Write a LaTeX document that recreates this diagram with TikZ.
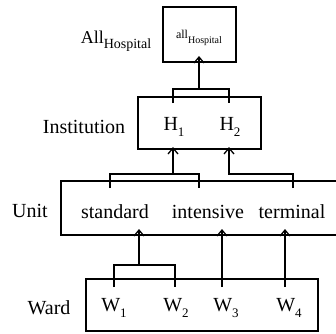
\documentclass[tikz,border=0pt]{standalone}
\usepackage{fontspec}
\setmainfont{Liberation Serif}
\usetikzlibrary{arrows.meta}
\newcommand{\lowsub}[1]{\raisebox{-0.6ex}{\fontsize{6.5}{7}\selectfont #1}}

\begin{document}
\begin{tikzpicture}
			[x=0.5pt,y=-0.5pt,line width=0.65pt,>={Straight Barb[length=3pt,width=5pt]},
			every node/.style={inner sep=0pt,font=\fontsize{10}{12}\selectfont}]
			\useasboundingbox (0,0) rectangle (336,333);
			\clip (0,0) rectangle (336,333);
			
			% boxes
			\draw (163,7) rectangle (236,62);
			\draw (138,97) rectangle (261,149);
			\draw (61,181) rectangle (350,235);
			\draw (86,279) rectangle (318,331);
			
			% level names
			\node (lall) at (116,41) {{\fontsize{9}{10}\selectfont All}\raisebox{-0.6ex}{\fontsize{7}{8}\selectfont Hospital}};
			\node (linst) at (84,127) {Institution};
			\node (lunit) at (30,211) {Unit};
			\node (lward) at (49,308) {Ward};
			
			% members
			\node (all) at (199,38) {{\fontsize{6}{7}\selectfont all}\raisebox{-0.5ex}{\fontsize{5}{6}\selectfont Hospital}};
			\node (h1) at (174,127) {H\lowsub{1}};
			\node (h2) at (230,127) {H\lowsub{2}};
			\node (std) at (115,212) {standard};
			\node (int) at (208,212) {intensive};
			\node (ter) at (292,212) {terminal};
			\node (w1) at (114,308) {W\lowsub{1}};
			\node (w2) at (176,308) {W\lowsub{2}};
			\node (w3) at (226,308) {W\lowsub{3}};
			\node (w4) at (289,308) {W\lowsub{4}};
			
			% ward -> unit
			\coordinate (w1t) at (114,287);
			\coordinate (w2t) at (175,287);
			\coordinate (w3t) at (222,287);
			\coordinate (w4t) at (285,287);
			\coordinate (j12) at (139,265);
			\coordinate (stdin) at (139,229);
			\coordinate (intin) at (222,229);
			\coordinate (terin) at (285,229);
			\draw (w1t) |- (j12) -| (w2t);
			\draw[->] (j12) -- (stdin);
			\foreach \from/\to in {w3t/intin,w4t/terin}
			\draw[->] (\from) -- (\to);
			
			% unit -> institution
			\coordinate (stdt) at (110,188);
			\coordinate (intt) at (199,188);
			\coordinate (tert) at (293,188);
			\coordinate (jsi) at (173,174);
			\coordinate (h1in) at (173,147);
			\coordinate (h2in) at (229,147);
			\draw (stdt) |- (jsi) -| (intt);
			\draw[->] (jsi) -- (h1in);
			\draw[->] (tert) |- (jsi -| h2in) -- (h2in);
			
			% institution -> all
			\coordinate (h1t) at (173,103);
			\coordinate (h2t) at (229,103);
			\coordinate (jh) at (199,89);
			\coordinate (allin) at (199,56);
			\draw (h1t) |- (jh) -| (h2t);
			\draw[->] (jh) -- (allin);
			\end{tikzpicture}
\end{document}
